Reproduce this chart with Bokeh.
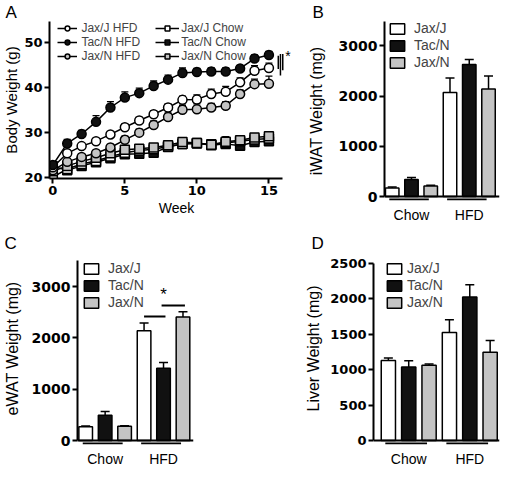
from bokeh.plotting import figure
from bokeh.models import (Range1d, FixedTicker, Legend, LegendItem, Whisker, TeeHead,
                          ColumnDataSource, Span)
from bokeh.layouts import column, row
from bokeh.core.properties import value
from bokeh.embed import file_html
from bokeh.resources import INLINE

# ---------------- data: panel A (body weight, g) ----------------
weeks = list(range(16))
jaxj_hfd = [22.2, 25.3, 26.9, 28.0, 29.5, 31.1, 32.6, 34.0, 35.5, 37.2, 37.3, 38.5, 39.0, 41.1, 43.7, 44.3]
jaxj_hfd_err = [0.4, 0.5, 0.5, 0.5, 0.6, 0.7, 0.7, 0.8, 0.8, 0.8, 1.0, 1.1, 1.2, 1.0, 1.1, 1.1]
tacn_hfd = [22.7, 27.5, 29.6, 32.3, 35.5, 37.7, 38.7, 40.3, 41.7, 43.2, 43.4, 43.5, 43.5, 44.2, 46.4, 47.2]
tacn_hfd_err = [0.5, 0.9, 0.8, 1.4, 1.3, 1.3, 1.1, 1.1, 1.0, 1.1, 0.8, 0.8, 0.8, 0.6, 0.8, 0.8]
jaxn_hfd = [21.5, 23.4, 24.5, 25.3, 26.6, 28.3, 29.9, 31.6, 33.4, 35.0, 35.1, 35.5, 35.9, 38.5, 40.7, 40.8]
jaxn_hfd_err = [0.4, 0.5, 0.5, 0.6, 0.7, 0.8, 0.8, 0.9, 0.9, 1.0, 1.2, 0.9, 0.9, 0.9, 1.1, 1.7]
jaxj_chow = [20.0, 21.8, 22.9, 23.6, 24.6, 25.4, 25.9, 26.2, 26.8, 27.4, 27.5, 27.3, 27.6, 28.0, 28.4, 28.6]
jaxj_chow_err = [0.3, 0.4, 0.4, 0.4, 0.5, 0.5, 0.5, 0.5, 0.6, 0.6, 0.6, 0.6, 0.7, 0.6, 0.6, 0.6]
tacn_chow = [22.4, 21.5, 22.5, 23.3, 24.2, 25.1, 25.2, 25.4, 26.7, 27.4, 27.6, 27.1, 27.4, 27.0, 27.8, 28.0]
tacn_chow_err = [0.4, 0.5, 0.5, 0.5, 0.6, 0.6, 0.6, 0.6, 0.7, 0.8, 0.7, 0.7, 0.8, 0.7, 0.7, 0.7]
jaxn_chow = [21.3, 22.5, 23.5, 24.3, 25.3, 26.1, 26.3, 26.6, 27.1, 27.8, 27.6, 27.2, 27.9, 28.2, 28.8, 29.1]
jaxn_chow_err = [0.4, 0.5, 0.5, 0.5, 0.5, 0.6, 0.9, 0.6, 0.6, 1.0, 0.7, 0.6, 1.1, 0.7, 0.8, 0.6]
week_ticks = [0, 5, 10, 15]
bw_ticks = [20, 30, 40, 50]
# significance brackets at week 15
sig_x = [15.65, 15.8, 15.96]
sig_top = [47.0, 47.4, 47.4]
sig_bottom = [44.1, 42.6, 43.8]

# ---------------- data: bar panels (mg) ----------------
groups = ["Chow", "HFD"]
strains = ["Jax/J", "Tac/N", "Jax/N"]
strain_colors = ["white", "#111111", "#c4c4c4"]

iwat_chow = [170, 340, 210]
iwat_chow_err = [20, 40, 15]
iwat_hfd = [2070, 2630, 2140]
iwat_hfd_err = [290, 100, 260]

ewat_chow = [270, 495, 280]
ewat_chow_err = [15, 70, 10]
ewat_hfd = [2140, 1410, 2410]
ewat_hfd_err = [150, 110, 100]

liver_chow = [1128, 1035, 1060]
liver_chow_err = [35, 90, 20]
liver_hfd = [1520, 2020, 1245]
liver_hfd_err = [180, 175, 165]

fat_ticks = [0, 1000, 2000, 3000]
liver_ticks = [0, 500, 1000, 1500, 2000, 2500]

TICK_FONT = "DejaVu Sans"
TXT_FONT = "Liberation Sans"


def base_style(p, letter, letter_offset, tick_size="13px"):
    p.frame_align = False
    p.outline_line_color = None
    p.xgrid.visible = False
    p.ygrid.visible = False
    p.background_fill_color = "white"
    p.border_fill_color = "white"
    p.title.text = letter
    p.title.align = "left"
    p.title.offset = letter_offset
    p.title.standoff = 0
    p.title.text_font = TXT_FONT
    p.title.text_font_style = "normal"
    p.title.text_font_size = "17px"
    p.title.text_color = "black"
    for ax in (p.xaxis[0], p.yaxis[0]):
        ax.axis_line_width = 2
        ax.axis_line_color = "black"
        ax.major_tick_line_width = 2
        ax.major_tick_out = 5
        ax.major_tick_in = 0
        ax.minor_tick_line_color = None
        ax.major_label_text_font = TICK_FONT
        ax.major_label_text_font_style = "bold"
        ax.major_label_text_font_size = tick_size
        ax.major_label_text_color = "black"
        ax.major_label_standoff = 2
        ax.axis_label_text_font = TXT_FONT
        ax.axis_label_text_font_style = "normal"
        ax.axis_label_text_color = "black"


# ---------------- panel A ----------------
pA = figure(width=304, height=231, x_range=Range1d(-0.23, 17.40), y_range=Range1d(19.69, 54.65),
            output_backend="svg", toolbar_location=None,
            min_border_left=44, min_border_right=1, min_border_top=20, min_border_bottom=53)
base_style(pA, "A", -44)
pA.xaxis.ticker = FixedTicker(ticks=week_ticks)
pA.yaxis.ticker = FixedTicker(ticks=bw_ticks)
pA.xaxis.bounds = (-0.23, 15.94)
pA.xaxis.axis_label = "Week"
pA.yaxis.axis_label = "Body Weight (g)"
pA.xaxis.axis_label_text_font_size = "14px"
pA.yaxis.axis_label_text_font_size = "15px"
pA.xaxis.axis_label_standoff = 2
pA.yaxis.axis_label_standoff = 1

series = [
    ("Tac/N Chow", tacn_chow, tacn_chow_err, "square", "#111111"),
    ("Jax/J Chow", jaxj_chow, jaxj_chow_err, "square", "white"),
    ("Jax/N Chow", jaxn_chow, jaxn_chow_err, "square", "#c4c4c4"),
    ("Jax/N HFD", jaxn_hfd, jaxn_hfd_err, "circle", "#c4c4c4"),
    ("Jax/J HFD", jaxj_hfd, jaxj_hfd_err, "circle", "white"),
    ("Tac/N HFD", tacn_hfd, tacn_hfd_err, "circle", "#111111"),
]
rend = {}
for name, vals, errs, mk, col in series:
    src = ColumnDataSource(dict(x=weeks, y=vals, up=[v + e for v, e in zip(vals, errs)]))
    pA.add_layout(Whisker(source=src, base="x", lower="y", upper="up", dimension="height",
                          lower_head=None, upper_head=TeeHead(size=7, line_width=1.3, line_color="black"),
                          line_width=1.3, line_color="black", level="underlay"))
    lr = pA.line("x", "y", source=src, line_color="black", line_width=1.5)
    sr = pA.scatter("x", "y", source=src, marker=mk, size=9, fill_color=col,
                    line_color="black", line_width=1.5)
    rend[name] = [lr, sr]

pA.segment(x0=sig_x, y0=sig_top, x1=sig_x, y1=sig_bottom, line_color="black", line_width=1.5)
pA.text(x=[16.14], y=[46.9], text=["*"], text_font=value(TXT_FONT), text_font_size="14px",
        text_baseline="middle", text_align="left", text_color="black")

leg_common = dict(margin=0, padding=0, spacing=0, border_line_color=None, background_fill_alpha=0,
                  label_text_font=TXT_FONT, label_text_font_size="12px", label_height=12,
                  glyph_height=12, label_text_line_height=0.8)
legA1 = Legend(items=[LegendItem(label=n, renderers=rend[n]) for n in ["Jax/J HFD", "Tac/N HFD", "Jax/N HFD"]],
               location=(8.4, 115), glyph_width=20, label_standoff=4, **leg_common)
legA2 = Legend(items=[LegendItem(label=n, renderers=rend[n]) for n in ["Jax/J Chow", "Tac/N Chow", "Jax/N Chow"]],
               location=(106.2, 115), glyph_width=24, label_standoff=2, **leg_common)
pA.add_layout(legA1)
pA.add_layout(legA2)


# ---------------- bar panels ----------------
def bar_panel(chow, chow_err, hfd, hfd_err, ylabel, yticks, y_rng, ytop, x_rng,
              width, height, bl, br, bt, bb, leg_loc, leg_standoff, lab_standoff, ylab_standoff,
              let, let_off, tick_size):
    p = figure(width=width, height=height, x_range=Range1d(*x_rng), y_range=Range1d(*y_rng),
               output_backend="svg", toolbar_location=None,
               min_border_left=bl, min_border_right=br, min_border_top=bt, min_border_bottom=bb)
    base_style(p, let, let_off, tick_size)
    frame_h = height - bt - bb
    px_per_unit = frame_h / (y_rng[1] - y_rng[0])
    vals = [chow, hfd]
    errs = [chow_err, hfd_err]
    items = []
    for s, (strain, col) in enumerate(zip(strains, strain_colors)):
        xs = [g * 3 + s for g in range(len(groups))]
        tops = [vals[g][s] for g in range(len(groups))]
        r = p.vbar(x=xs, top=tops, bottom=0, width=0.7, fill_color=col,
                   line_color="black", line_width=1.5)
        items.append(LegendItem(label=strain, renderers=[r]))
    allx = [g * 3 + s for g in range(len(groups)) for s in range(len(strains))]
    ally = [vals[g][s] for g in range(len(groups)) for s in range(len(strains))]
    alle = [errs[g][s] for g in range(len(groups)) for s in range(len(strains))]
    src = ColumnDataSource(dict(x=allx, y=ally, up=[a + b for a, b in zip(ally, alle)]))
    p.add_layout(Whisker(source=src, base="x", lower="y", upper="up", dimension="height",
                         lower_head=None, upper_head=TeeHead(size=9, line_width=1.5, line_color="black"),
                         line_width=1.5, line_color="black"))
    p.add_layout(Span(location=0, dimension="width", line_color="black", line_width=2))
    ul = -3 / px_per_unit
    p.segment(x0=[g * 3 - 0.15 for g in range(len(groups))], y0=[ul] * len(groups),
              x1=[g * 3 + 1.9 for g in range(len(groups))], y1=[ul] * len(groups),
              line_color="black", line_width=2)
    p.yaxis.ticker = FixedTicker(ticks=yticks)
    p.yaxis.bounds = (0, ytop)
    p.yaxis.axis_label = ylabel
    p.yaxis.axis_label_text_font_size = "16px"
    p.yaxis.axis_label_standoff = ylab_standoff
    centers = [g * 3 + 1 for g in range(len(groups))]
    p.xaxis.ticker = FixedTicker(ticks=centers)
    p.xaxis.major_label_overrides = {c: g for c, g in zip(centers, groups)}
    p.xaxis.axis_line_color = None
    p.xaxis.major_tick_line_color = None
    p.xaxis.major_tick_out = 0
    p.xaxis.major_label_text_font = TXT_FONT
    p.xaxis.major_label_text_font_style = "normal"
    p.xaxis.major_label_text_font_size = "14px"
    p.xaxis.major_label_standoff = lab_standoff
    leg = Legend(items=items, location=leg_loc, margin=0, padding=0, spacing=1,
                 border_line_color=None, background_fill_alpha=0,
                 glyph_width=18, glyph_height=13, label_height=13, label_standoff=leg_standoff,
                 label_text_font=TXT_FONT, label_text_font_size="14px")
    p.add_layout(leg)
    return p


pB = bar_panel(iwat_chow, iwat_chow_err, iwat_hfd, iwat_hfd_err, "iWAT Weight (mg)", fat_ticks,
               (-79, 3484), 3500, (-0.40, 5.57), 196, 231, 77, 1, 20, 31, (3.9, 130), 8, 6, 11,
               "B", -72, "14px")
pC = bar_panel(ewat_chow, ewat_chow_err, ewat_hfd, ewat_hfd_err, "eWAT Weight (mg)", fat_ticks,
               (-77, 3665), 3500, (-0.42, 5.54), 249, 238, 74, 56, 20, 24, (5, 134), 8, 6, 8,
               "C", -73, "14px")
# significance in C
sig_c_x0 = [3.0, 3.9]
sig_c_x1 = [4.1, 5.1]
sig_c_y = [2420, 2630]
pC.segment(x0=sig_c_x0, y0=sig_c_y, x1=sig_c_x1, y1=sig_c_y, line_color="black", line_width=2)
pC.text(x=[4.0], y=[2840], text=["*"], text_font=value(TXT_FONT), text_font_size="17px",
        text_baseline="middle", text_align="center", text_color="black")
pD = bar_panel(liver_chow, liver_chow_err, liver_hfd, liver_hfd_err, "Liver Weight (mg)", liver_ticks,
               (-55, 2648), 2500, (-0.73, 5.46), 251, 238, 124, 1, 20, 22, (12, 134), 4, 6, 5,
               "D", -62, "13px")

layout = column(row(pA, pB), row(pC, pD))
open("out.html", "w").write(file_html(layout, INLINE))
